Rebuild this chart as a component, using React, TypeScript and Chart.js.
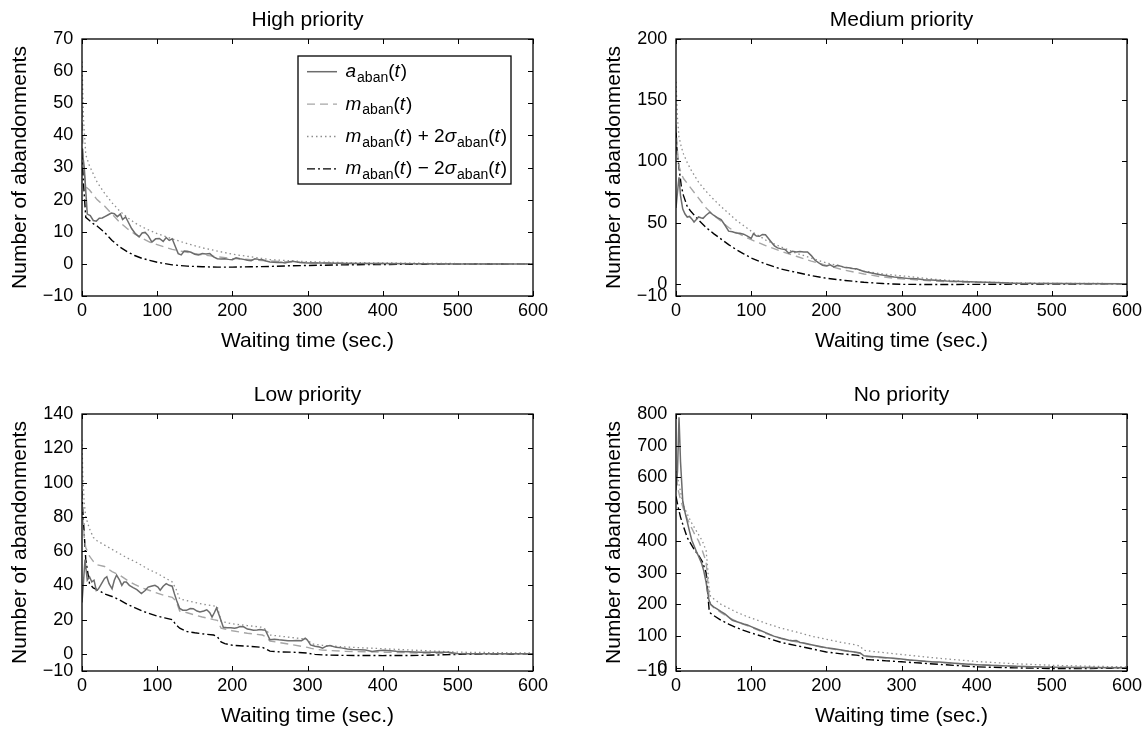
import React, { useEffect, useRef } from "react";
import { Chart, registerables } from "chart.js";

Chart.register(...registerables);

const FONT = "'Liberation Sans', Arial, Helvetica, sans-serif";

const X_TICKS = [0, 100, 200, 300, 400, 500, 600];
const X_TITLE = "Waiting time (sec.)";
const Y_TITLE = "Number of abandonments";

// ---------- High priority ----------
const Y_TICKS_HIGH = [-10, 0, 10, 20, 30, 40, 50, 60, 70];
const T_A_HIGH = [0, 3, 7, 11, 15, 19, 23, 27, 31, 35, 39, 43, 47, 51, 54, 58, 62, 66, 71, 76, 80, 84, 88, 93, 98, 103, 108, 112, 116, 120, 124, 128, 132, 136, 140, 145, 150, 155, 160, 165, 170, 175, 180, 185, 190, 195, 200, 205, 210, 215, 220, 225, 230, 235, 240, 245, 250, 255, 260, 265, 270, 275, 280, 290, 300, 320, 340, 360, 400, 450, 500, 600];
const A_HIGH = [36, 30, 15.5, 15, 13.5, 13.3, 14.2, 14.3, 14.8, 15.3, 15.8, 15.6, 14.7, 15.5, 13.8, 14.6, 12.8, 11, 9.4, 8.4, 9.6, 9.8, 8.8, 6.8, 7.8, 7.9, 7.0, 8.2, 7.3, 7.8, 5.5, 3.2, 2.8, 4.0, 3.9, 3.6, 3.0, 2.8, 3.2, 3.1, 3.2, 2.2, 1.6, 1.5, 1.6, 1.4, 1.3, 1.9, 1.6, 1.4, 1.1, 1.0, 1.6, 1.4, 1.3, 0.9, 0.6, 0.5, 0.4, 0.5, 0.3, 0.6, 0.8, 0.4, 0.3, 0.3, 0.2, 0.15, 0.1, 0.05, 0, 0];
const T_S_HIGH = [0, 2, 5, 10, 15, 20, 30, 40, 50, 60, 70, 80, 90, 100, 120, 140, 160, 180, 200, 225, 250, 275, 300, 350, 400, 450, 500, 600];
const M_HIGH = [48, 30, 24, 23, 21.5, 20, 18, 15.5, 13, 11, 9.3, 8, 6.8, 6, 4.5, 3.6, 2.8, 2.2, 1.7, 1.3, 0.9, 0.6, 0.4, 0.2, 0.1, 0.05, 0, 0];
const UP_HIGH = [63, 45, 34, 30.5, 28, 25.5, 22, 19, 16.5, 14.5, 12.8, 11.5, 10.4, 9.4, 7.8, 6.3, 5, 4, 3, 2.2, 1.3, 1, 0.7, 0.4, 0.3, 0.2, 0.1, 0];
const LO_HIGH = [35, 25, 14.5, 13.5, 12.5, 11.8, 9.8, 7.3, 5.3, 3.8, 2.6, 1.7, 1.1, 0.5, -0.3, -0.7, -0.9, -1, -1, -0.9, -0.8, -0.6, -0.5, -0.3, -0.2, -0.1, -0.05, 0];

// ---------- Medium priority ----------
const Y_TICKS_MED = [-10, 0, 50, 100, 150, 200];
const T_A_MED = [0, 2, 4, 6, 9, 12, 15, 18, 21, 24, 27, 30, 33, 36, 40, 45, 50, 55, 60, 65, 70, 75, 80, 85, 90, 95, 100, 103, 107, 111, 115, 119, 123, 127, 131, 135, 140, 145, 150, 155, 160, 165, 170, 175, 180, 185, 190, 195, 200, 205, 210, 215, 220, 225, 230, 235, 240, 250, 260, 270, 280, 290, 300, 310, 320, 330, 340, 350, 360, 380, 400, 425, 450, 500, 600];
const A_MED = [62, 75, 87, 72, 61, 57, 54.5, 55, 53, 50.5, 52.5, 54.6, 54, 53.5, 56, 58.5, 56, 54, 52.5, 48, 43, 42.5, 41.5, 41.2, 40.5, 39, 37, 41, 39, 38.8, 40.3, 40, 37, 34, 31, 29.3, 28.5, 28, 25, 26.5, 26, 26.3, 26, 26, 23, 19.2, 17, 15, 14.5, 15.5, 13.8, 15, 14.2, 13.2, 13, 12.5, 12.3, 10, 8.8, 7.6, 6.5, 5.5, 5, 4.2, 4, 3.3, 3, 2.7, 2.3, 1.8, 1.4, 1, 0.5, 0.2, 0];
const T_S_MED = [0, 1, 2, 4, 7, 10, 15, 20, 30, 40, 50, 60, 70, 80, 90, 100, 120, 140, 160, 180, 200, 225, 250, 275, 300, 350, 400, 450, 500, 600];
const M_MED = [130, 118, 108, 96, 90, 86, 82, 78, 70, 62, 56, 51, 46, 42, 39, 36, 31, 26.5, 22.5, 18.5, 15, 11, 8, 5.5, 4, 2, 1, 0.5, 0.2, 0];
const UP_MED = [165, 150, 135, 120, 112, 106, 99, 93, 83, 75.5, 69, 63, 57.5, 52, 47.5, 43, 35.5, 30, 25, 21, 17, 13.5, 10.5, 8, 6.5, 3.3, 1.5, 0.8, 0.4, 0.1];
const LO_MED = [125, 112, 105, 95, 80, 72, 63, 59, 52, 46, 41, 36.5, 32, 28, 24.5, 21, 16, 12, 9.3, 6.7, 4.5, 2.7, 1.2, 0.2, -0.5, -0.6, -0.5, -0.3, -0.2, 0];

// ---------- Low priority ----------
const Y_TICKS_LOW = [-10, 0, 20, 40, 60, 80, 100, 120, 140];
const T_A_LOW = [0, 2, 4, 7, 10, 13, 16, 19, 22, 26, 30, 33, 36, 40, 43, 46, 50, 53, 56, 59, 63, 68, 73, 79, 84, 88, 92, 97, 101, 104, 108, 112, 116, 120, 123, 126, 130, 134, 139, 144, 148, 153, 157, 162, 166, 170, 173, 176, 179, 183, 188, 193, 198, 203, 206, 210, 215, 220, 224, 228, 233, 237, 241, 244, 247, 250, 256, 262, 268, 274, 280, 286, 292, 297, 300, 304, 310, 316, 320, 325, 330, 338, 345, 353, 360, 370, 377, 386, 393, 401, 410, 418, 425, 435, 450, 470, 488, 498, 520, 560, 600];
const A_LOW = [30, 42, 55, 43, 45, 42, 43, 37, 38, 41, 44, 45, 41, 38, 43, 46, 43, 40, 42, 42, 40, 38.7, 37.5, 35.2, 37, 39, 39.5, 40, 39, 37.2, 39.5, 41, 40, 39.5, 35, 31, 26.5, 25.5, 25.4, 26.5, 26.4, 25, 24.4, 25, 25.7, 24, 21.5, 24, 26.8, 22, 15.5, 15.3, 15.2, 15, 15.2, 16, 15.8, 14.5, 14.2, 13.8, 14, 14.2, 14, 13.8, 11, 8.3, 8.5, 8.2, 8, 7.6, 7.6, 7.8, 7.7, 9.1, 8, 5.2, 4.5, 4, 3.3, 4.5, 4.9, 3.8, 3.5, 2.9, 2.6, 2.4, 2.3, 1.4, 1.8, 2.1, 1.8, 1.5, 1.4, 1.2, 1, 1, 1, 0.2, 0.1, 0, 0];
const T_S_LOW = [0, 1, 3, 5, 10, 15, 20, 30, 40, 50, 60, 70, 80, 90, 100, 110, 120, 125, 130, 140, 150, 160, 175, 180, 185, 190, 200, 220, 240, 245, 250, 260, 280, 300, 305, 310, 320, 350, 400, 450, 500, 550, 600];
const M_LOW = [95, 80, 68, 62, 57, 54, 52, 51, 48, 46, 43, 40.5, 38.5, 37, 35.5, 34, 33, 31, 25, 24, 22.7, 21.5, 20, 19.6, 15, 14.5, 13.5, 12, 11, 10, 7.5, 6.8, 5.3, 3.8, 3.2, 2.8, 2.2, 1.5, 1, 0.5, 0.2, 0.1, 0];
const UP_LOW = [125, 105, 88, 80, 73, 68, 66, 63.5, 61, 58.5, 56, 54, 51.5, 49, 47, 44.5, 42, 38, 32, 31, 30, 29, 28, 27.5, 19, 18.5, 17.5, 16.5, 15.5, 14, 11, 10.5, 9.5, 8.5, 6, 5.5, 5, 4, 3, 2, 1, 0.7, 0.5];
const LO_LOW = [95, 84, 70, 55, 41, 38.5, 37.5, 35, 33.5, 31.5, 29, 27, 25, 23.5, 22, 21, 20, 17, 15, 13, 12.3, 11.7, 11, 10, 7, 6, 5, 4.5, 3.8, 2.8, 1.6, 1.2, 1, 0.5, 0, -0.3, -0.6, -0.9, -1, -0.9, -0.3, -0.1, 0];

// ---------- No priority ----------
const Y_TICKS_NO = [-10, 0, 100, 200, 300, 400, 500, 600, 700, 800];
const T_A_NO = [0, 2, 4, 6, 9, 12, 15, 18, 21, 24, 27, 30, 34, 37, 40, 42, 44, 46, 50, 55, 60, 65, 70, 75, 80, 85, 90, 95, 100, 110, 120, 130, 140, 150, 155, 160, 165, 170, 180, 190, 200, 210, 220, 230, 240, 245, 250, 260, 270, 280, 290, 300, 310, 320, 330, 340, 350, 375, 400, 425, 450, 475, 500, 550, 600];
const A_NO = [560, 620, 790, 650, 525, 490, 460, 430, 402, 385, 367, 352, 330, 305, 270, 240, 212, 200, 192, 185, 177, 170, 160, 150, 146, 142, 138, 135, 130, 120, 110, 100, 93, 87, 85, 86, 80, 78, 73, 68, 63, 60, 56, 52, 49, 47, 38, 36, 34, 32, 30, 28, 25, 23, 21, 19, 18, 14, 10, 7, 5, 3.5, 2, 1, 0];
const T_S_NO = [0, 3, 6, 10, 15, 20, 25, 30, 35, 40, 42, 44, 46, 50, 60, 70, 80, 90, 100, 120, 140, 160, 180, 200, 220, 240, 245, 250, 260, 280, 300, 325, 350, 400, 450, 500, 550, 600];
const M_NO = [600, 560, 530, 500, 470, 445, 420, 400, 370, 335, 280, 225, 200, 190, 174, 158, 147, 137, 128, 108, 92, 82, 72, 62, 55, 48, 46, 36, 34, 31, 27, 22, 17, 10, 5, 2, 1, 0];
const UP_NO = [620, 590, 555, 510, 485, 460, 440, 420, 400, 370, 320, 250, 225, 218, 200, 188, 176, 166, 157, 140, 125, 113, 100, 90, 80, 72, 68, 55, 52, 47, 42, 36, 30, 20, 13, 8, 5, 3];
const LO_NO = [540, 505, 475, 445, 410, 390, 370, 355, 335, 300, 240, 185, 172, 165, 150, 138, 127, 118, 110, 95, 80, 70, 60, 50, 44, 40, 38, 27, 25, 22, 19, 15, 11, 3, 0, -2, -2, -1];

// legend text pieces: i = italic, s = subscript, n = normal
const LEGEND_PARTS: [string, string][][] = [
  [["a", "i"], ["aban", "s"], ["(", "n"], ["t", "i"], [")", "n"]],
  [["m", "i"], ["aban", "s"], ["(", "n"], ["t", "i"], [")", "n"]],
  [["m", "i"], ["aban", "s"], ["(", "n"], ["t", "i"], [") + 2", "n"], ["σ", "i"], ["aban", "s"], ["(", "n"], ["t", "i"], [")", "n"]],
  [["m", "i"], ["aban", "s"], ["(", "n"], ["t", "i"], [") − 2", "n"], ["σ", "i"], ["aban", "s"], ["(", "n"], ["t", "i"], [")", "n"]],
];

const PANELS = [
  { title: "High priority", yMax: 70, yTicks: Y_TICKS_HIGH, ta: T_A_HIGH, a: A_HIGH, ts: T_S_HIGH, m: M_HIGH, up: UP_HIGH, lo: LO_HIGH, legend: true, left: 0, top: 0 },
  { title: "Medium priority", yMax: 200, yTicks: Y_TICKS_MED, ta: T_A_MED, a: A_MED, ts: T_S_MED, m: M_MED, up: UP_MED, lo: LO_MED, legend: false, left: 594, top: 0 },
  { title: "Low priority", yMax: 140, yTicks: Y_TICKS_LOW, ta: T_A_LOW, a: A_LOW, ts: T_S_LOW, m: M_LOW, up: UP_LOW, lo: LO_LOW, legend: false, left: 0, top: 375 },
  { title: "No priority", yMax: 800, yTicks: Y_TICKS_NO, ta: T_A_NO, a: A_NO, ts: T_S_NO, m: M_NO, up: UP_NO, lo: LO_NO, legend: false, left: 594, top: 375 },
];

const CW = 552;
const CH = 355;

const pts = (ts: number[], vs: number[]) => ts.map((t, i) => ({ x: t, y: vs[i] }));
const fmt = (v: any) => (Number(v) < 0 ? "\u2212" + Math.abs(Number(v)) : String(v));

const framePlugin = {
  id: "frameTicks",
  afterDraw(chart: any) {
    const { ctx, chartArea: a, scales } = chart;
    const L = 5;
    ctx.save();
    ctx.strokeStyle = "#000";
    ctx.setLineDash([]);
    ctx.lineWidth = 1;
    ctx.beginPath();
    scales.x.ticks.forEach((t: any) => {
      const px = Math.round(scales.x.getPixelForValue(t.value)) + 0.5;
      ctx.moveTo(px, a.bottom);
      ctx.lineTo(px, a.bottom - L);
      ctx.moveTo(px, a.top);
      ctx.lineTo(px, a.top + L);
    });
    scales.y.ticks.forEach((t: any) => {
      const py = Math.round(scales.y.getPixelForValue(t.value)) + 0.5;
      ctx.moveTo(a.left, py);
      ctx.lineTo(a.left + L, py);
      ctx.moveTo(a.right, py);
      ctx.lineTo(a.right - L, py);
    });
    ctx.stroke();
    ctx.lineWidth = 1.3;
    ctx.strokeRect(a.left, a.top, a.right - a.left, a.bottom - a.top);
    ctx.restore();
  },
};

const mathLegendPlugin = {
  id: "mathLegend",
  afterDatasetsDraw(chart: any, _args: any, opts: any) {
    if (!opts || !opts.display) return;
    const { ctx, chartArea: a } = chart;
    const x0 = a.left + opts.left;
    const y0 = a.top + opts.top;
    ctx.save();
    ctx.fillStyle = "#fff";
    ctx.fillRect(x0, y0, opts.width, opts.height);
    ctx.strokeStyle = "#000";
    ctx.lineWidth = 1.3;
    ctx.setLineDash([]);
    ctx.strokeRect(x0, y0, opts.width, opts.height);
    chart.data.datasets.forEach((ds: any, i: number) => {
      const y = y0 + opts.firstRow + i * opts.rowGap;
      ctx.beginPath();
      ctx.strokeStyle = ds.borderColor;
      ctx.lineWidth = ds.borderWidth;
      ctx.setLineDash(ds.borderDash || []);
      ctx.moveTo(x0 + opts.sampleX, y);
      ctx.lineTo(x0 + opts.sampleX + opts.sampleLen, y);
      ctx.stroke();
      ctx.setLineDash([]);
      ctx.fillStyle = "#000";
      ctx.textAlign = "left";
      ctx.textBaseline = "alphabetic";
      let x = x0 + opts.textX;
      for (const [txt, st] of LEGEND_PARTS[i]) {
        ctx.font = st === "i" ? `italic 19px ${FONT}` : st === "s" ? `14px ${FONT}` : `19px ${FONT}`;
        ctx.fillText(txt, x, y + (st === "s" ? 10 : 5.5));
        x += ctx.measureText(txt).width + (st === "i" ? 1 : 0);
      }
    });
    ctx.restore();
  },
};

function Panel({ p }: { p: (typeof PANELS)[number] }) {
  const ref = useRef<HTMLCanvasElement | null>(null);
  useEffect(() => {
    if (!ref.current) return;
    const chart = new Chart(ref.current, {
      type: "line",
      data: {
        datasets: [
          { label: "a", data: pts(p.ta, p.a), borderColor: "#6c6c6c", borderWidth: 1.5, borderDash: [], pointRadius: 0, tension: 0 },
          { label: "m", data: pts(p.ts, p.m), borderColor: "#a6a6a6", borderWidth: 1.4, borderDash: [8, 5], pointRadius: 0, tension: 0 },
          { label: "up", data: pts(p.ts, p.up), borderColor: "#8e8e8e", borderWidth: 1.3, borderDash: [1.5, 3], pointRadius: 0, tension: 0 },
          { label: "lo", data: pts(p.ts, p.lo), borderColor: "#000000", borderWidth: 1.4, borderDash: [8, 3, 2, 3], pointRadius: 0, tension: 0 },
        ],
      } as any,
      options: {
        responsive: false,
        animation: false,
        events: [],
        layout: { padding: { left: 0, right: 19, top: 0, bottom: 0 } },
        plugins: {
          legend: { display: false },
          tooltip: { enabled: false },
          title: {
            display: true,
            text: p.title,
            fullSize: false,
            color: "#000",
            font: { family: FONT, size: 21, weight: "normal" },
            padding: { top: 7.4, bottom: 6.4 },
          },
          mathLegend: {
            display: p.legend,
            left: 216,
            top: 17,
            width: 213,
            height: 128,
            firstRow: 15.7,
            rowGap: 32.4,
            sampleX: 9,
            sampleLen: 30,
            textX: 47.5,
          },
        } as any,
        scales: {
          x: {
            type: "linear",
            min: 0,
            max: 600,
            grid: { display: false, drawTicks: false },
            border: { display: false },
            afterBuildTicks: (s: any) => {
              s.ticks = X_TICKS.map((v) => ({ value: v }));
            },
            afterFit: (s: any) => {
              s.height = CH - 296;
              s.paddingLeft = 0;
              s.paddingRight = 0;
            },
            ticks: {
              autoSkip: false,
              maxRotation: 0,
              padding: 3.9,
              color: "#000",
              font: { family: FONT, size: 18 },
              callback: fmt,
            },
            title: {
              display: true,
              text: X_TITLE,
              color: "#000",
              font: { family: FONT, size: 21 },
              padding: { top: 0, bottom: 1.5 },
            },
          },
          y: {
            type: "linear",
            min: -10,
            max: p.yMax,
            grid: { display: false, drawTicks: false },
            border: { display: false },
            afterBuildTicks: (s: any) => {
              s.ticks = p.yTicks.map((v) => ({ value: v }));
            },
            afterFit: (s: any) => {
              s.width = 82;
              s.paddingTop = 0;
              s.paddingBottom = 0;
            },
            ticks: {
              autoSkip: false,
              padding: 8.7,
              color: "#000",
              font: { family: FONT, size: 18 },
              callback: fmt,
            },
            title: {
              display: true,
              text: Y_TITLE,
              color: "#000",
              font: { family: FONT, size: 21 },
              padding: { top: 7.4, bottom: 0 },
            },
          },
        },
      } as any,
      plugins: [framePlugin, mathLegendPlugin],
    });
    return () => chart.destroy();
  }, [p]);
  return (
    <canvas
      ref={ref}
      width={CW}
      height={CH}
      style={{ position: "absolute", left: p.left, top: p.top, width: CW, height: CH }}
    />
  );
}

export default function App() {
  return (
    <div style={{ position: "absolute", left: 0, top: 0, width: 1146, height: 730, background: "#fff", overflow: "hidden" }}>
      {PANELS.map((p) => (
        <Panel key={p.title} p={p} />
      ))}
    </div>
  );
}
